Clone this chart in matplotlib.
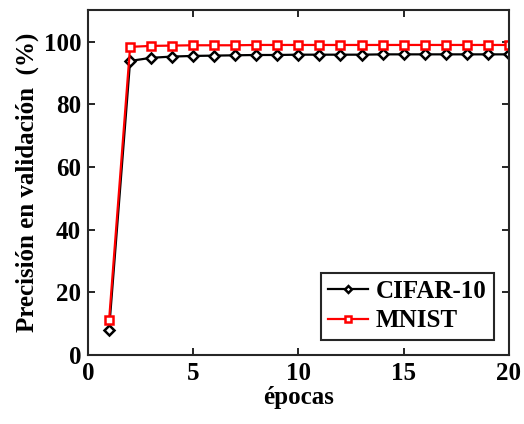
import matplotlib
matplotlib.use("Agg")
import matplotlib.pyplot as plt
import numpy as np

fontsize = 18

epocas = list(range(1, 21))
cifar10 = [8.0, 93.8, 94.8, 95.2, 95.4, 95.5, 95.6, 95.7, 95.7, 95.8,
           95.8, 95.8, 95.8, 95.9, 95.9, 95.9, 95.9, 95.9, 95.9, 95.9]
mnist = [11.0, 98.3, 98.6, 98.7, 98.8, 98.8, 98.8, 98.9, 98.9, 98.9,
         98.9, 98.9, 98.9, 98.9, 98.9, 98.9, 98.9, 98.9, 98.9, 98.9]

plt.rcParams['font.family'] = ['Liberation Serif', 'DejaVu Serif']
plt.rcParams['font.weight'] = 'bold'

fig = plt.figure(figsize=(5.24, 4.24), dpi=100)
ax = fig.add_axes([0.168, 0.163, 0.803, 0.813])

ax.plot(epocas, cifar10, color='k', linewidth=1.6, marker='D', markersize=5,
        markerfacecolor='white', markeredgewidth=1.8, label='CIFAR-10')
ax.plot(epocas, mnist, color='red', linewidth=1.6, marker='s', markersize=5.5,
        markerfacecolor='white', markeredgewidth=1.8, label='MNIST')

ax.set_xlim(0, 20)
ax.set_ylim(0, 110)
ax.set_xticks([0, 5, 10, 15, 20])
ax.set_yticks([0, 20, 40, 60, 80, 100])
ax.tick_params(direction='in', length=5, width=1.2, top=True, right=True,
               labelsize=fontsize, pad=5)
for s in ax.spines.values():
    s.set_linewidth(1.5)
    s.set_color('#262626')

ax.set_xlabel('épocas', fontsize=fontsize, fontweight='bold', labelpad=1)
ax.set_ylabel('Precisión en validación  (%)', fontsize=fontsize,
              fontweight='bold', labelpad=3)

leg = ax.legend(loc='lower right', fontsize=fontsize, frameon=True,
                fancybox=False, borderpad=0.3, handlelength=1.6,
                handletextpad=0.3, borderaxespad=0.6, labelspacing=0.25,
                markerscale=0.7)
leg.get_frame().set_edgecolor('#262626')
leg.get_frame().set_linewidth(1.5)
leg.get_frame().set_alpha(1)

fig.savefig('out.png', dpi=100)
